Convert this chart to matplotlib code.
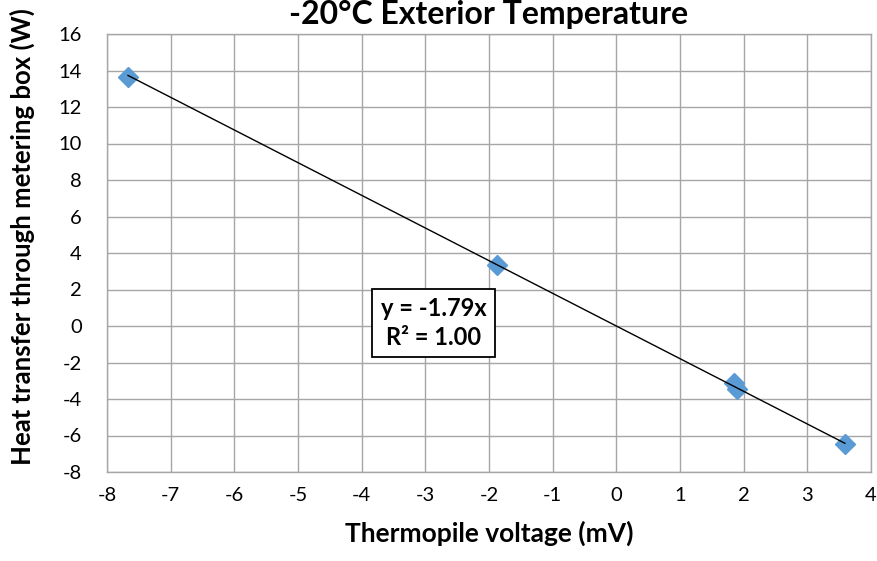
import matplotlib
matplotlib.use("Agg")
import matplotlib.pyplot as plt
import numpy as np

voltage = [-7.67, -1.87, 1.85, 1.90, 3.59]
heat = [13.66, 3.32, -3.15, -3.46, -6.47]
slope = -1.79
x_ticks = list(range(-8, 5, 1))
y_ticks = list(range(-8, 17, 2))

FONT = ["Lato", "DejaVu Sans"]
plt.rcParams["font.family"] = FONT
plt.rcParams["axes.unicode_minus"] = False

fig = plt.figure(figsize=(8.77, 5.61), dpi=100)
ax = fig.add_axes([107/877, 89/561, 764/877, 438/561])

ax.set_xlim(-8, 4)
ax.set_ylim(-8, 16)
ax.set_xticks(x_ticks)
ax.set_yticks(y_ticks)
ax.grid(True, color="#A6A6A6", linewidth=1.0)
ax.set_axisbelow(True)
for s in ax.spines.values():
    s.set_color("#A6A6A6")
    s.set_linewidth(1.0)
ax.tick_params(length=0, labelsize=14.5)
ax.tick_params(axis="x", pad=11)
ax.tick_params(axis="y", pad=18)

xs = np.array([min(voltage), max(voltage)])
ax.plot(xs, slope * xs, color="black", linewidth=1.0, zorder=3)
ax.plot(voltage, heat, linestyle="none", marker="D", markersize=10,
        color="#5B9BD5", markeredgecolor="#5B9BD5", zorder=2)

ax.text(-2.87, 0.15, "y = -1.79x\nR² = 1.00", ha="center", va="center",
        fontsize=17, fontweight="bold", linespacing=1.3,
        bbox=dict(boxstyle="square,pad=0.35", facecolor="white",
                  edgecolor="black", linewidth=1.3), zorder=5)

ax.set_xlabel("Thermopile voltage (mV)", fontsize=19, fontweight="bold")
ax.xaxis.set_label_coords(0.5, -0.112)
ax.set_ylabel("Heat transfer through metering box (W)", fontsize=18.5,
              fontweight="bold")
ax.yaxis.set_label_coords((35 - 107) / 764, (561 - 237 - 89) / 438)
fig.text(489/877, 1 - 24/561, "-20°C Exterior Temperature", ha="center",
         va="baseline", fontsize=23, fontweight="bold")

fig.savefig("out.png", dpi=100)
